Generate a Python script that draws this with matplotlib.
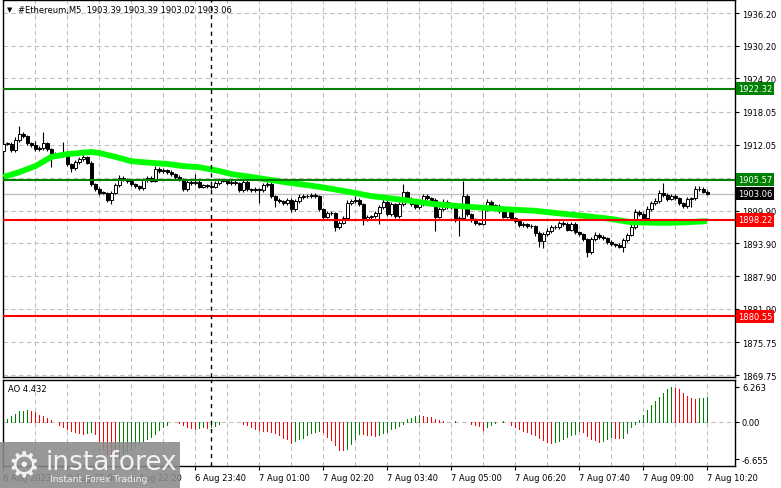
import numpy as np
import matplotlib
matplotlib.use("Agg")
import matplotlib.pyplot as plt
from matplotlib.patches import Rectangle

# ---- data (M5 candles, 6 Aug 19:40 .. 7 Aug 10:20) ----
first_open = 1910.9
closes = [1912.2, 1912.2, 1911.0, 1912.9, 1914.0, 1913.6, 1912.3, 1912.0, 1911.2, 1911.4,
          1912.3, 1911.2, 1910.3, 1910.1, 1910.1, 1910.5, 1908.5, 1907.7, 1908.8, 1909.4,
          1909.8, 1908.7, 1904.8, 1903.9, 1903.2, 1903.2, 1901.9, 1903.2, 1904.6, 1905.9,
          1905.7, 1905.4, 1904.8, 1904.4, 1904.1, 1905.5, 1905.9, 1905.4, 1907.6, 1907.2,
          1907.4, 1907.0, 1906.6, 1906.1, 1905.7, 1903.9, 1905.2, 1905.0, 1905.2, 1904.3,
          1904.6, 1904.4, 1904.3, 1905.0, 1905.5, 1905.4, 1905.0, 1905.2, 1905.0, 1903.7,
          1905.2, 1903.9, 1903.7, 1903.9, 1903.7, 1904.6, 1904.8, 1902.6, 1901.9, 1901.7,
          1901.3, 1901.9, 1900.2, 1901.7, 1902.4, 1902.6, 1902.6, 1902.8, 1902.6, 1900.2,
          1898.8, 1899.5, 1899.5, 1896.9, 1897.7, 1898.6, 1901.3, 1901.7, 1901.9, 1901.1,
          1898.4, 1898.8, 1898.9, 1899.5, 1900.6, 1901.5, 1899.3, 1901.1, 1898.9, 1901.1,
          1903.3, 1902.1, 1901.1, 1900.6, 1901.1, 1902.6, 1902.2, 1901.9, 1898.8, 1900.2,
          1901.5, 1900.6, 1901.0, 1898.2, 1898.6, 1902.6, 1899.3, 1898.2, 1897.7, 1897.5,
          1900.2, 1901.5, 1900.8, 1900.8, 1899.9, 1898.8, 1900.0, 1898.6, 1898.0, 1897.3,
          1897.5, 1897.1, 1897.1, 1895.8, 1894.4, 1895.6, 1896.2, 1896.9, 1896.9, 1897.7,
          1897.5, 1896.4, 1897.5, 1896.0, 1895.6, 1894.7, 1892.3, 1894.7, 1895.5, 1895.1,
          1894.9, 1894.2, 1893.8, 1893.6, 1893.3, 1894.5, 1895.5, 1896.9, 1899.7, 1899.3,
          1898.6, 1900.2, 1901.3, 1901.7, 1903.2, 1902.8, 1902.1, 1902.6, 1902.2, 1901.3,
          1900.8, 1902.1, 1902.2, 1903.9, 1903.9, 1903.4, 1903.06]

up_wick = [0.3, 0.4, 0.3, 0.5, 1.5, 0.4, 0.3, 0.3, 0.8, 0.3, 2.1, 0.3, 0.2, 0.3, 0.4, 2.0, 0.3, 0.2, 0.4, 0.3,
           0.3, 0.2, 0.3, 0.2, 0.3, 0.4, 0.2, 0.3, 0.4, 0.5, 0.3, 0.3, 0.4, 0.2, 0.3, 0.4, 0.3, 0.3, 0.6, 0.3,
           0.3, 0.2, 0.3, 0.2, 0.3, 0.3, 0.5, 0.3, 1.4, 0.3, 0.2, 0.3, 0.3, 0.4, 0.5, 0.3, 0.2, 0.3, 0.3, 0.2,
           0.3, 0.3, 0.2, 0.3, 0.2, 0.4, 0.3, 0.3, 0.2, 0.3, 0.2, 0.3, 0.3, 0.4, 0.5, 0.3, 0.3, 0.4, 0.3, 0.2,
           0.3, 0.4, 0.3, 0.2, 0.3, 0.4, 0.5, 0.4, 0.7, 0.3, 0.2, 0.3, 0.3, 0.4, 0.3, 0.5, 0.3, 0.4, 0.3, 0.4,
           1.5, 0.3, 0.3, 0.2, 0.3, 0.4, 0.3, 0.3, 0.3, 0.4, 0.5, 0.3, 0.3, 0.3, 0.3, 2.8, 0.3, 0.2, 0.3, 0.2,
           0.4, 0.5, 0.3, 0.4, 0.3, 0.3, 0.4, 0.3, 0.2, 0.3, 0.3, 0.2, 0.3, 0.2, 0.3, 0.4, 0.5, 0.4, 0.3, 0.4,
           0.3, 0.3, 0.4, 0.3, 0.2, 0.3, 0.2, 0.4, 0.5, 0.3, 0.3, 0.2, 0.3, 0.2, 0.3, 0.4, 0.4, 0.5, 0.6, 0.3,
           0.3, 0.5, 0.4, 0.5, 0.6, 1.8, 0.3, 0.4, 0.3, 0.2, 0.3, 0.4, 0.3, 0.6, 0.5, 0.4, 0.3]

low_wick = [0.4, 0.3, 0.3, 0.4, 0.3, 0.3, 0.3, 0.4, 0.3, 0.3, 0.4, 0.3, 2.4, 0.4, 0.3, 0.3, 0.3, 0.7, 0.4, 0.3,
            0.3, 0.3, 0.4, 0.3, 0.4, 0.3, 0.3, 0.8, 0.3, 0.3, 0.3, 0.4, 0.3, 0.3, 0.3, 0.4, 0.3, 0.3, 0.3, 0.4,
            0.3, 0.3, 0.3, 0.4, 0.3, 0.4, 0.3, 0.3, 0.4, 0.3, 0.3, 0.3, 0.4, 0.3, 0.3, 0.3, 0.4, 0.3, 0.3, 0.4,
            0.3, 0.4, 0.3, 0.3, 2.4, 0.3, 0.3, 0.4, 1.3, 0.4, 0.4, 0.3, 0.5, 0.3, 0.3, 0.3, 0.4, 0.3, 0.3, 0.4,
            0.4, 0.3, 0.4, 0.7, 0.4, 0.3, 0.3, 0.3, 0.3, 0.4, 1.1, 0.3, 0.4, 0.3, 2.0, 0.3, 0.4, 0.3, 0.4, 0.3,
            0.3, 0.3, 0.4, 0.3, 0.3, 0.3, 0.3, 0.4, 2.6, 0.3, 0.3, 0.4, 0.3, 0.4, 2.9, 0.3, 0.4, 0.3, 0.4, 0.3,
            0.3, 0.3, 0.4, 0.3, 0.4, 0.3, 0.3, 0.4, 0.3, 0.4, 0.3, 0.4, 0.3, 0.5, 1.2, 1.3, 0.4, 0.3, 0.4, 0.3,
            0.4, 0.3, 0.3, 0.4, 0.3, 0.4, 0.9, 0.3, 0.3, 0.4, 0.3, 0.4, 0.3, 0.4, 0.3, 1.0, 0.3, 0.3, 0.3, 0.4,
            0.4, 0.3, 0.3, 0.3, 0.3, 0.3, 0.4, 0.3, 0.3, 0.4, 0.4, 0.3, 1.5, 0.3, 0.3, 0.3, 0.2]

# moving average, read at a set of candles
ma_idx = [0, 4, 8, 12, 16, 22, 24, 28, 32, 37, 41, 45, 49, 54, 57, 62, 70, 79, 87, 92,
          100, 108, 117, 125, 133, 138, 146, 152, 157, 163, 167, 171, 176]
ma_val = [1906.1, 1907.0, 1908.1, 1909.8, 1910.3, 1910.7, 1910.5, 1909.8, 1909.0, 1908.7,
          1908.5, 1908.1, 1907.9, 1907.2, 1906.65, 1906.1, 1905.2, 1904.3, 1903.3, 1902.6,
          1901.9, 1901.1, 1900.6, 1900.2, 1899.9, 1899.5, 1898.9, 1898.4, 1897.8, 1897.7,
          1897.7, 1897.8, 1898.0]

# Awesome Oscillator
ao = [0.3, 0.6, 1.06, 1.47, 1.9, 2.0, 2.1, 2.0, 1.8, 1.2,
      1.0, 0.7, 0.3, -0.1, -0.5, -0.9, -1.3, -1.65, -1.9, -2.05,
      -2.1, -2.0, -1.9, -2.2, -3.5, -4.8, -5.7, -6.3, -6.655, -6.4,
      -5.9, -5.3, -4.8, -4.3, -3.9, -3.4, -3.0, -2.65, -2.1, -1.5,
      -0.9, -0.5, -0.1, 0.05, -0.2, -0.5, -0.9, -1.05, -1.2, -1.05,
      -0.95, -1.05, -0.9, -0.7, -0.35, -0.1, 0.02, 0.05, 0.03, -0.1,
      -0.3, -0.6, -0.9, -1.3, -1.5, -1.6, -1.65, -1.8, -2.05, -2.4,
      -2.8, -3.1, -3.7, -3.4, -3.1, -2.8, -2.4, -1.95, -1.8, -1.65,
      -1.9, -2.65, -3.2, -4.1, -5.0, -5.1, -4.8, -4.0, -3.0, -2.1,
      -2.2, -2.3, -2.4, -2.5, -2.3, -2.05, -1.8, -1.3, -1.05, -0.7,
      -0.3, 0.6, 0.75, 1.0, 1.3, 1.1, 0.9, 0.85, 0.5, 0.3,
      0.15, 0.0, 0.05, 0.1, 0.05, 0.02, -0.1, -0.4, -0.5, -0.8,
      -1.5, -1.0, -0.6, -0.2, -0.1, 0.1, 0.0, -0.6, -1.0, -1.3,
      -1.6, -1.9, -2.1, -2.4, -2.9, -3.3, -3.6, -3.8, -3.6, -3.4,
      -3.0, -2.7, -2.4, -2.1, -1.6, -1.9, -2.5, -3.0, -3.3, -3.6,
      -3.4, -3.0, -2.7, -2.8, -2.9, -2.8, -2.0, -1.0, -0.3, 0.4,
      1.3, 2.2, 3.1, 3.7, 4.4, 5.2, 5.9, 6.263, 6.1, 5.8,
      5.2, 4.7, 4.3, 4.1, 4.2, 4.3, 4.432]

time_ticks = [0, 16, 32, 48, 64, 80, 96, 112, 128, 144, 160, 176]
time_labels = ['6 Aug 2023', '6 Aug 21:00', '6 Aug 22:20', '6 Aug 23:40', '7 Aug 01:00',
               '7 Aug 02:20', '7 Aug 03:40', '7 Aug 05:00', '7 Aug 06:20', '7 Aug 07:40',
               '7 Aug 09:00', '7 Aug 10:20']
price_ticks = [1936.20, 1930.20, 1924.20, 1918.05, 1912.05, 1905.95, 1899.90,
               1893.90, 1887.90, 1881.90, 1875.75, 1869.75]
price_labels = ['1936.20', '1930.20', '1924.20', '1918.05', '1912.05', '', '1899.90',
                '1893.90', '1887.90', '1881.90', '1875.75', '1869.75']
green_levels = [1922.32, 1905.57]
red_levels = [1898.22, 1880.55]
last_price = 1903.06

# ---- figure ----
W, H = 781, 489
fig = plt.figure(figsize=(W / 100, H / 100), dpi=100)
ax = fig.add_axes([3 / W, 1 - 378 / H, 732 / W, 377 / H])
ax2 = fig.add_axes([3 / W, 1 - 467 / H, 732 / W, 86 / H])

grid_kw = dict(color='#c0c0c0', linestyle=(0, (4, 3)), linewidth=0.8)
x = np.arange(len(closes))
closes_a = np.array(closes)
opens_a = np.r_[first_open, closes_a[:-1]]
highs = np.maximum(opens_a, closes_a) + np.array(up_wick)
lows = np.minimum(opens_a, closes_a) - np.array(low_wick)

for a in (ax, ax2):
    a.set_xlim(-0.1, 183)
    for g in range(0, 184, 8):
        a.axvline(g, zorder=0, **grid_kw)
    a.axvline(52, color='black', linestyle=(0, (3, 3)), linewidth=1, zorder=6)
    for s in a.spines.values():
        s.set_linewidth(1)
        s.set_color('black')
    a.yaxis.tick_right()
    a.tick_params(axis='y', direction='out', length=3, pad=2, labelsize=6, colors='black')

# main panel
ax.set_ylim(1869.39, 1938.59)
for p in price_ticks:
    ax.axhline(p, zorder=0, **grid_kw)
ax.axhline(last_price, color='#c0c0c0', linewidth=1, zorder=1)

up = closes_a >= opens_a
ax.vlines(x, lows, highs, color='black', linewidth=0.8, zorder=2)
body_h = np.maximum(np.abs(closes_a - opens_a), 0.08)
ax.bar(x, body_h, bottom=np.minimum(opens_a, closes_a), width=0.75,
       color=np.where(up, 'white', 'black'), edgecolor='black', linewidth=0.7, zorder=3)

ax.plot(ma_idx, ma_val, color='#00ff00', linewidth=4.2, solid_capstyle='butt', zorder=4)
for lv in green_levels:
    ax.axhline(lv, color='#008000', linewidth=1.5, zorder=5)
for lv in red_levels:
    ax.axhline(lv, color='#ff0000', linewidth=1.5, zorder=5)

ax.set_yticks(price_ticks)
ax.set_yticklabels(price_labels)
ax.set_xticks(time_ticks)
ax.tick_params(axis='x', length=0, labelbottom=False)

ytr = ax.get_yaxis_transform()
boxes = [(1922.32, '#008000'), (1905.57, '#008000'), (last_price, 'black'),
         (1898.22, '#ff0000'), (1880.55, '#ff0000')]
for val, col in boxes:
    ax.text(1.004, val, '%.2f' % val, transform=ytr, fontsize=6, color='white',
            va='center', ha='left', clip_on=False, zorder=10,
            bbox=dict(boxstyle='square,pad=0.25', fc=col, ec='none'))

# AO panel
ax2.set_ylim(-7.9, 7.5)
ax2.axhline(0, zorder=0, **grid_kw)
ao_a = np.array(ao)
rising = np.r_[True, ao_a[1:] > ao_a[:-1]]
ax2.vlines(x, 0, ao_a, colors=np.where(rising, '#008000', '#ff0000'),
           linewidth=0.72, antialiased=False, zorder=2)
ax2.set_yticks([6.263, 0, -6.655])
ax2.set_yticklabels(['6.263', '0.00', '-6.655'])
ax2.set_xticks(time_ticks)
ax2.set_xticklabels(time_labels, ha='left')
ax2.tick_params(axis='x', direction='out', length=3, pad=2, labelsize=6, colors='black')

# header texts
fig.text(7 / W, 1 - 10 / H, '\u25bc', fontsize=5, va='center', ha='left')
fig.text(18 / W, 1 - 10 / H, '#Ethereum,M5  1903.39 1903.39 1903.02 1903.06',
         fontsize=6, va='center', ha='left')
fig.text(8 / W, 1 - 390 / H, 'AO 4.432', fontsize=6, va='center', ha='left')

# watermark
fig.add_artist(Rectangle((0, 0), 180 / W, 46 / H, transform=fig.transFigure,
                         facecolor='#8a8a8a', edgecolor='none', alpha=0.88, zorder=20))
fig.text(24 / W, 1 - 466 / H, '\u2699', fontsize=26, color='#f2f2f2',
         va='center', ha='center', zorder=21)
fig.text(46 / W, 1 - 463 / H, 'instaforex', fontsize=19, color='#f2f2f2',
         va='center', ha='left', zorder=21)
fig.text(50 / W, 1 - 480 / H, 'Instant Forex Trading', fontsize=6.7, color='#f2f2f2',
         va='center', ha='left', zorder=21)

fig.savefig('out.png', dpi=100)
